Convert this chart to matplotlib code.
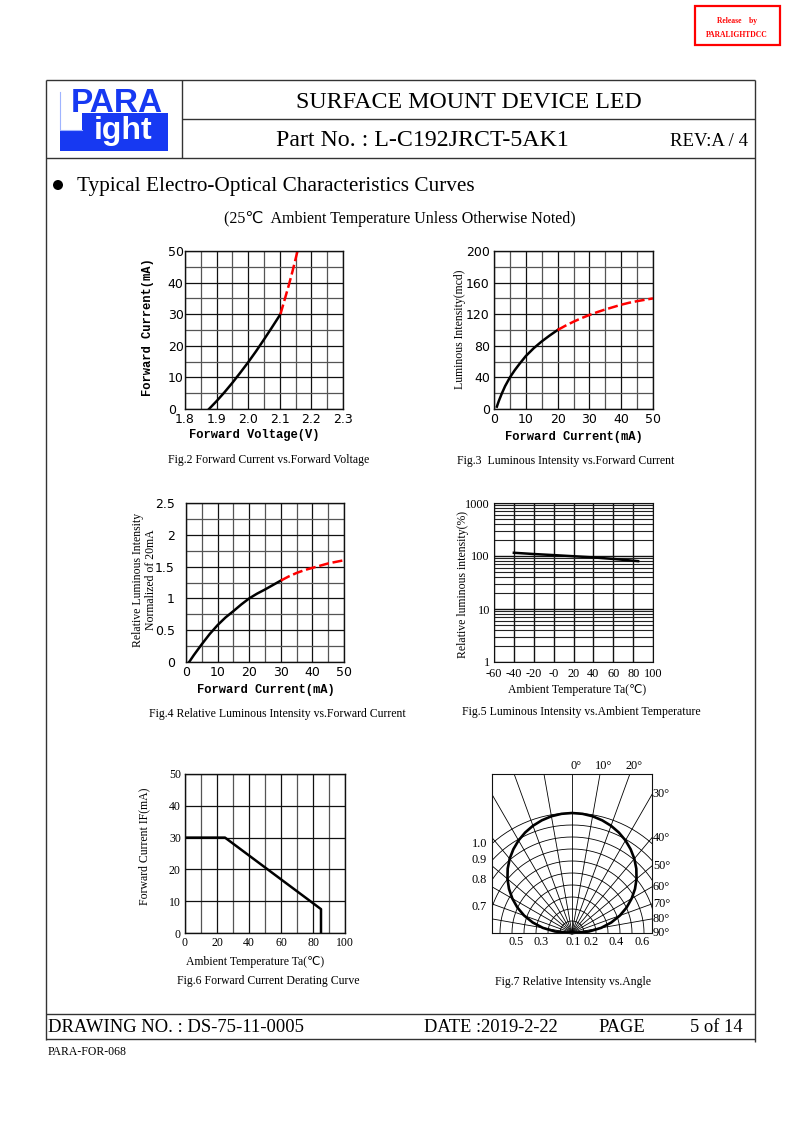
import matplotlib
matplotlib.use("Agg")
import matplotlib.pyplot as plt
import numpy as np
from matplotlib.patches import Rectangle, Polygon, Circle
from matplotlib.ticker import FixedLocator, NullFormatter

W, H = 794, 1123
SERIF = ["Liberation Serif", "DejaVu Sans"]
SANS = ["DejaVu Sans"]
MONO = ["Liberation Mono", "DejaVu Sans Mono"]

# Fig.2 forward current vs forward voltage
fig2_volt = [1.876, 1.90, 1.925, 1.95, 1.975, 2.0, 2.025, 2.05, 2.075, 2.102]
fig2_curr = [0, 2.5, 5.3, 8.3, 11.5, 14.8, 18.3, 22.0, 25.8, 30.0]
fig2_volt_ext = [2.102, 2.115, 2.128, 2.14, 2.15, 2.156]
fig2_curr_ext = [30, 34.5, 39, 43.5, 47.5, 50]

# Fig.3 luminous intensity vs forward current
fig3_curr = [0.9, 1.5, 2.5, 3.5, 5, 6.5, 8, 10, 12.5, 15, 17.5, 20]
fig3_lum = [3, 10, 20, 29, 40, 49, 57, 67, 77, 85.5, 93, 100]
fig3_curr_ext = [20, 22.5, 25, 27.5, 30, 32.5, 35, 37.5, 40, 42.5, 45, 47.5, 50]
fig3_lum_ext = [100, 105.5, 110.5, 115, 119, 122.7, 126, 129, 132, 134.5, 136.5, 138.3, 140]

# Fig.4 relative luminous intensity vs forward current
fig4_curr = [1, 2.5, 5, 7.5, 10, 12.5, 15, 17.5, 20, 22.5, 25, 27.5, 30]
fig4_rel = [0, 0.11, 0.28, 0.44, 0.58, 0.70, 0.80, 0.905, 1.0, 1.075, 1.14, 1.21, 1.28]
fig4_curr_ext = [30, 32.5, 35, 37.5, 40, 42.5, 45, 47.5, 50]
fig4_rel_ext = [1.28, 1.345, 1.40, 1.445, 1.48, 1.515, 1.55, 1.575, 1.60]

# Fig.5 luminous intensity vs ambient temperature
fig5_temp = [-40, -20, 0, 20, 40, 60, 85]
fig5_rel = [115, 109, 104, 99, 94, 88, 80]
fig5_xticks = [-60, -40, -20, 0, 20, 40, 60, 80, 100]
fig5_xlabels = ["-60", "-40", "-20", "-0", "20", "40", "60", "80", "100"]

# Fig.6 derating curve
fig6_temp = [0, 25, 85, 85]
fig6_curr = [30, 30, 7.5, 0]

# Fig.7 radiation pattern
fig7_angle = [0, 5, 10, 15, 20, 25, 30, 35, 40, 45, 50, 55, 60, 65, 70, 75, 80, 85, 90]
fig7_int = [1.0, 0.997, 0.988, 0.972, 0.951, 0.924, 0.891, 0.852, 0.808, 0.758,
            0.702, 0.641, 0.574, 0.502, 0.424, 0.339, 0.247, 0.142, 0.0]
fig7_left_labels = ["1.0", "0.9", "0.8", "0.7"]
fig7_left_vals = [1.0, 0.9, 0.8, 0.7]
fig7_bottom_labels = ["0.5", "0.3", "0.1", "0.2", "0.4", "0.6"]

fig = plt.figure(figsize=(W / 100, H / 100), dpi=100)
page = fig.add_axes([0, 0, 1, 1])
page.set_xlim(0, W)
page.set_ylim(H, 0)
page.axis("off")


def ax_at(l, t, r, b):
    return fig.add_axes([l / W, 1 - b / H, (r - l) / W, (b - t) / H])


def line(x0, y0, x1, y1, lw=1.0, color="#333333"):
    page.plot([x0, x1], [y0, y1], color=color, lw=lw, solid_capstyle="butt")


def txt(x, y, s, size, family=SERIF, ha="center", **kw):
    page.text(x, y, s, fontsize=size, family=family, ha=ha, va="center", **kw)


# ---- release stamp
page.add_patch(Rectangle((695, 6), 85, 39, fill=False, ec="red", lw=1.6))
txt(737, 21, "Release    by", 5.5, color="red", weight="bold")
txt(737, 35, "PARALIGHTDCC", 5.5, color="red", weight="bold")

# ---- frame
line(46, 80, 755, 80)
line(46, 80, 46, 1040)
line(755, 80, 755, 1042)
line(182, 80, 182, 158)
line(182, 119, 755, 119)
line(46, 158, 755, 158)
line(46, 1014, 755, 1014)
line(46, 1039, 755, 1039)

# ---- logo
blue = "#1739f2"
page.add_patch(Polygon([(82, 113), (168, 113), (168, 151), (60, 151), (60, 130), (82, 130)],
                       closed=True, fc=blue, ec="none"))
page.plot([60, 60, 82], [92, 130, 130], color="#9fb4ff", lw=0.8)
page.text(117, 103, "PARA", fontsize=24, family=["Liberation Sans"], weight="bold",
          color=blue, ha="center", va="center")
page.text(123, 131, "ight", fontsize=23, family=["Liberation Sans"], weight="bold",
          color="white", ha="center", va="center")

# ---- header text
txt(469, 102, "SURFACE MOUNT DEVICE LED", 17.2)
txt(422, 141, "Part No. : L-C192JRCT-5AK1", 17.2)
txt(709, 141, "REV:A / 4", 13.5)
page.add_patch(Circle((58, 185), 5, fc="black", ec="none"))
txt(77, 186, "Typical Electro-Optical Characteristics Curves", 15.3, ha="left")
txt(400, 219, "(25\u2103  Ambient Temperature Unless Otherwise Noted)", 11.5)

# ---- footer
txt(48, 1027, "DRAWING NO. : DS-75-11-0005", 13.4, ha="left")
txt(424, 1027, "DATE :2019-2-22", 13.3, ha="left")
txt(598, 1027, "PAGE", 13.3, ha="left")
txt(690, 1027, "5 of 14", 13.3, ha="left")
txt(48, 1052, "PARA-FOR-068", 8.5, ha="left")


def style_lin(ax, xlim, ylim, xmaj, xmin, ymaj, ymin, font, size, xlabels=None,
              ylabels=None, ypad=3, yha="right"):
    ax.set_xlim(*xlim)
    ax.set_ylim(*ylim)
    ax.set_xticks(xmaj)
    ax.set_xticks(xmin, minor=True)
    ax.set_yticks(ymaj)
    ax.set_yticks(ymin, minor=True)
    if xlabels is not None:
        ax.set_xticklabels(xlabels)
    if ylabels is not None:
        ax.set_yticklabels(ylabels)
    ax.grid(which="major", color="#111111", lw=0.9)
    ax.grid(which="minor", color="#555555", lw=0.9)
    ax.tick_params(which="both", length=0, labelsize=size, pad=3)
    ax.tick_params(axis="y", pad=ypad)
    for lab in ax.get_xticklabels() + ax.get_yticklabels():
        lab.set_family(font)
    for lab in ax.get_yticklabels():
        lab.set_ha(yha)
    for s in ax.spines.values():
        s.set_color("#111111")
        s.set_linewidth(1.0)


# ---- Fig.2
ax2 = ax_at(185, 251, 343, 409)
style_lin(ax2, (1.8, 2.3), (0, 50), np.arange(1.8, 2.31, 0.1), np.arange(1.85, 2.3, 0.1),
          np.arange(0, 51, 10), np.arange(5, 50, 10), SANS, 9,
          xlabels=["1.8", "1.9", "2.0", "2.1", "2.2", "2.3"], ypad=12.5, yha="left")
ax2.plot(fig2_volt, fig2_curr, color="black", lw=1.8)
ax2.plot(fig2_volt_ext, fig2_curr_ext, color="red", lw=1.8, dashes=(4, 1.5))
txt(148.5, 327, "Forward Current(mA)", 8.7, family=MONO, weight="bold", rotation=90)
txt(254, 435, "Forward Voltage(V)", 8.7, family=MONO, weight="bold")
txt(269, 460, "Fig.2 Forward Current vs.Forward Voltage", 8.5)

# ---- Fig.3
ax3 = ax_at(494, 251, 653, 409)
style_lin(ax3, (0, 50), (0, 200), np.arange(0, 51, 10), np.arange(5, 50, 10),
          np.arange(0, 201, 40), np.arange(20, 200, 40), SANS, 9)
ax3.plot(fig3_curr, fig3_lum, color="black", lw=1.8)
ax3.plot(fig3_curr_ext, fig3_lum_ext, color="red", lw=1.8, dashes=(4, 1.5))
txt(459.5, 329, "Luminous Intensity(mcd)", 8.5, rotation=90)
txt(574, 437, "Forward Current(mA)", 8.7, family=MONO, weight="bold")
txt(566, 461, "Fig.3  Luminous Intensity vs.Forward Current", 8.5)

# ---- Fig.4
ax4 = ax_at(186, 503, 344, 662)
style_lin(ax4, (0, 50), (0, 2.5), np.arange(0, 51, 10), np.arange(5, 50, 10),
          [0, 0.5, 1, 1.5, 2, 2.5], np.arange(0.25, 2.5, 0.5), SANS, 9,
          ylabels=["0", "0.5", "1", "1.5", "2", "2.5"], ypad=8)
ax4.plot(fig4_curr, fig4_rel, color="black", lw=1.8)
ax4.plot(fig4_curr_ext, fig4_rel_ext, color="red", lw=1.8, dashes=(4, 1.5))
txt(144.5, 580, "Relative Luminous Intensity\nNormalized of 20mA", 8.5, rotation=90,
    linespacing=1.0)
txt(266, 689.5, "Forward Current(mA)", 8.7, family=MONO, weight="bold")
txt(277, 714, "Fig.4 Relative Luminous Intensity vs.Forward Current", 8.5)

# ---- Fig.5
ax5 = ax_at(494, 503, 653, 662)
ax5.set_yscale("log")
ax5.set_xlim(-60, 100)
ax5.set_ylim(1, 1000)
ax5.set_xticks(fig5_xticks)
ax5.set_xticklabels(fig5_xlabels)
ax5.yaxis.set_major_locator(FixedLocator([1, 10, 100, 1000]))
ax5.set_yticklabels(["1", "10", "100", "1000"])
minor_y = [m * d for d in (1, 10, 100) for m in range(2, 10)]
ax5.yaxis.set_minor_locator(FixedLocator(minor_y))
ax5.yaxis.set_minor_formatter(NullFormatter())
ax5.grid(which="major", color="#111111", lw=1.0)
ax5.grid(which="minor", axis="y", color="#222222", lw=0.8)
ax5.tick_params(which="both", length=0, labelsize=8.8, pad=3)
ax5.tick_params(axis="x", pad=4.5)
for lab in ax5.get_xticklabels() + ax5.get_yticklabels():
    lab.set_family(SERIF)
for s in ax5.spines.values():
    s.set_color("#111111")
ax5.plot(fig5_temp, fig5_rel, color="black", lw=1.8)
txt(463, 585, "Relative luminous intensity(%)", 8.5, rotation=90)
txt(577, 690, "Ambient Temperature Ta(\u2103)", 8.5)
txt(581, 712, "Fig.5 Luminous Intensity vs.Ambient Temperature", 8.5)

# ---- Fig.6
ax6 = ax_at(185, 774, 345, 933)
style_lin(ax6, (0, 100), (0, 50), np.arange(0, 101, 20), np.arange(10, 100, 20),
          np.arange(0, 51, 10), [], SERIF, 8.5)
ax6.plot(fig6_temp, fig6_curr, color="black", lw=1.8)
txt(144, 846, "Forward Current IF(mA)", 8.5, rotation=90)
txt(255, 962, "Ambient Temperature Ta(\u2103)", 8.5)
txt(268, 981, "Fig.6 Forward Current Derating Curve", 8.5)

# ---- Fig.7
ax7 = ax_at(492, 774, 652, 933)
ax7.set_xlim(-1, 1)
ax7.set_ylim(0, 1.9875)
ax7.set_xticks([])
ax7.set_yticks([])
for s in ax7.spines.values():
    s.set_color("#111111")
R = 1.5
th = np.linspace(0, np.pi, 181)
for k in range(1, 11):
    r = R * k / 10
    ax7.plot(r * np.cos(th), r * np.sin(th), color="black", lw=0.6)
for a in range(-90, 91, 10):
    t = np.radians(a)
    ax7.plot([0, 3 * np.sin(t)], [0, 3 * np.cos(t)], color="black", lw=0.6)
ang = np.radians(fig7_angle)
inten = np.array(fig7_int)
xs = np.concatenate([-(R * inten * np.sin(ang))[::-1], R * inten * np.sin(ang)])
ys = np.concatenate([(R * inten * np.cos(ang))[::-1], R * inten * np.cos(ang)])
ax7.plot(xs, ys, color="black", lw=1.9, clip_on=False)
for a in (0, 10, 20):
    ax7.text(1.9875 * np.tan(np.radians(a)) + 0.05, 2.01, f"{a}\u00b0", fontsize=8.8,
             family=SERIF, ha="center", va="bottom")
for a in range(30, 91, 10):
    y = 1 / np.tan(np.radians(a)) if a < 90 else 0.0
    ax7.text(1.01, y, f"{a}\u00b0", fontsize=8.8, family=SERIF, ha="left", va="center")
for lab, v in zip(fig7_left_labels, fig7_left_vals):
    ax7.text(-1.06, np.sqrt((R * v) ** 2 - 1), lab, fontsize=8.8, family=SERIF,
             ha="right", va="center")
for lab, xp in zip(fig7_bottom_labels, [-0.70, -0.39, 0.02, 0.24, 0.55, 0.88]):
    ax7.text(xp, -0.04, lab, fontsize=8.8, family=SERIF, ha="center", va="top")
txt(573, 982, "Fig.7 Relative Intensity vs.Angle", 8.5)

fig.savefig("out.png", dpi=100)
